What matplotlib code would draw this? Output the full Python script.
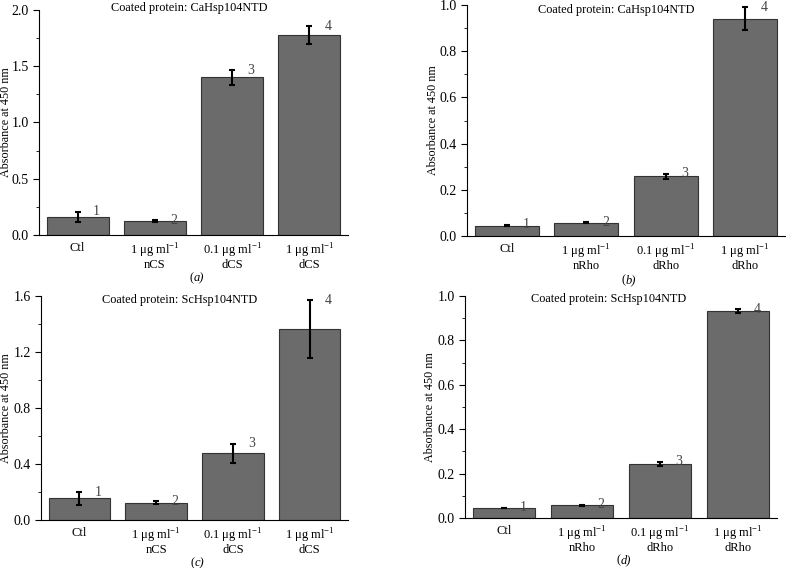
import matplotlib
matplotlib.use("Agg")
import matplotlib.pyplot as plt
from matplotlib.ticker import AutoMinorLocator

plt.rcParams["font.family"] = ["Liberation Serif", "DejaVu Serif"]
plt.rcParams["mathtext.fontset"] = "custom"
plt.rcParams["mathtext.rm"] = "Liberation Serif"

# data
cs_labels = ["Ctl", "1 μg ml$^{-1}$\nnCS", "0.1 μg ml$^{-1}$\ndCS", "1 μg ml$^{-1}$\ndCS"]
rho_labels = ["Ctl", "1 μg ml$^{-1}$\nnRho", "0.1 μg ml$^{-1}$\ndRho", "1 μg ml$^{-1}$\ndRho"]

a_vals = [0.16, 0.125, 1.40, 1.775]
a_errs = [0.045, 0.008, 0.065, 0.08]
b_vals = [0.045, 0.058, 0.258, 0.94]
b_errs = [0.003, 0.002, 0.011, 0.05]
c_vals = [0.155, 0.125, 0.475, 1.365]
c_errs = [0.045, 0.008, 0.068, 0.205]
d_vals = [0.045, 0.057, 0.243, 0.932]
d_errs = [0.002, 0.002, 0.01, 0.008]

# letter, protein, labels, values, errors, ymax, step, axes rect,
# ylabel x, title x, title y
panels = [
    ("a", "CaHsp104NTD", cs_labels, a_vals, a_errs, 2.0, 0.5,
     [0.0496, 0.5863, 0.3931, 0.3961], -0.088, 0.485, 1.008),
    ("b", "CaHsp104NTD", rho_labels, b_vals, b_errs, 1.0, 0.2,
     [0.5941, 0.5845, 0.4046, 0.4067], -0.088, 0.47, 0.978),
    ("c", "ScHsp104NTD", cs_labels, c_vals, c_errs, 1.6, 0.4,
     [0.0522, 0.0845, 0.3905, 0.3944], -0.094, 0.45, 0.982),
    ("d", "ScHsp104NTD", rho_labels, d_vals, d_errs, 1.0, 0.2,
     [0.5916, 0.0880, 0.3969, 0.3909], -0.092, 0.46, 0.986),
]

fig = plt.figure(figsize=(7.86, 5.68), dpi=100)

for letter, protein, labels, vals, errs, ymax, step, pos, ylab_x, title_x, title_y in panels:
    ax = fig.add_axes(pos)
    x = range(len(vals))
    ax.bar(x, vals, width=0.8, color="#6b6b6b", edgecolor="#333333", linewidth=0.8)
    ax.errorbar(x, vals, yerr=errs, fmt="none", ecolor="black",
                elinewidth=1.5, capsize=2.5, capthick=1.5)
    for i, (v, e) in enumerate(zip(vals, errs)):
        ax.text(i + 0.2, v + e, str(i + 1), ha="left",
                va="center", fontsize=10, color="#444444")
    ax.set_xlim(-0.5, 3.5)
    ax.set_ylim(0, ymax)
    ax.set_yticks([round(k * step, 2) for k in range(int(round(ymax / step)) + 1)])
    ax.yaxis.set_minor_locator(AutoMinorLocator(2))
    ax.set_xticks(list(x))
    ax.set_xticklabels(labels, fontsize=9, linespacing=0.9)
    ax.tick_params(axis="x", length=0, pad=5)
    ax.tick_params(axis="y", which="major", direction="out", length=4, labelsize=10)
    ax.tick_params(axis="y", which="minor", direction="out", length=2.5)
    ax.spines["top"].set_visible(False)
    ax.spines["right"].set_visible(False)
    ax.set_ylabel("Absorbance at 450 nm", fontsize=8.7)
    ax.yaxis.set_label_coords(ylab_x, 0.5)
    ax.text(title_x, title_y, "Coated protein: " + protein, transform=ax.transAxes,
            ha="center", va="center", fontsize=8.8)
    ax.text(0.5, -0.165, "(", transform=ax.transAxes, ha="right", va="top",
            fontsize=9)
    ax.text(0.5, -0.165, letter + ")", transform=ax.transAxes, ha="left",
            va="top", fontsize=9, style="italic")

fig.savefig("out.png", dpi=100)
